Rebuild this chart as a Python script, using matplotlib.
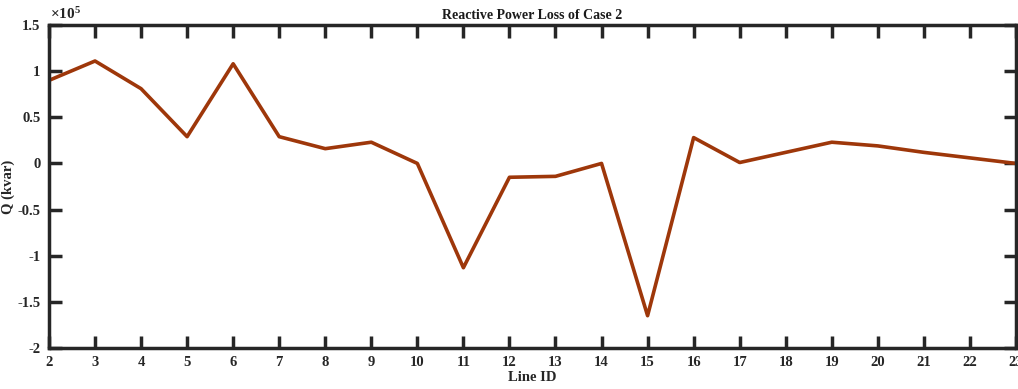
import matplotlib
matplotlib.use("Agg")
import matplotlib.pyplot as plt
from matplotlib.ticker import FuncFormatter

line_id = list(range(2, 24))
q_kvar = [0.90e5, 1.11e5, 0.81e5, 0.29e5, 1.08e5, 0.29e5, 0.16e5, 0.23e5, 0.00e5,
          -1.13e5, -0.15e5, -0.14e5, 0.00e5, -1.65e5, 0.28e5, 0.01e5, 0.12e5,
          0.23e5, 0.19e5, 0.12e5, 0.06e5, 0.00e5]
y_ticks = [-2e5, -1.5e5, -1e5, -0.5e5, 0, 0.5e5, 1e5, 1.5e5]

plt.rcParams['font.family'] = ['Liberation Serif', 'DejaVu Serif']
plt.rcParams['font.weight'] = 'bold'
plt.rcParams['mathtext.fontset'] = 'custom'
plt.rcParams['mathtext.rm'] = 'Liberation Serif'
plt.rcParams['mathtext.it'] = 'Liberation Serif:italic'
plt.rcParams['mathtext.bf'] = 'Liberation Serif:bold'

fig = plt.figure(figsize=(10.18, 3.89), dpi=100)
ax = fig.add_axes([0.0481, 0.1054, 0.9499, 0.8303])
ax.plot(line_id, q_kvar, color='#9E370A', linewidth=2.6)

ax.set_xlim(2, 23)
ax.set_ylim(-2e5, 1.5e5)
ax.set_xticks(line_id)
ax.set_yticks(y_ticks)

def fmt(v, pos):
    s = f"{v/1e5:g}"
    return s.replace('\u2212', '-')
ax.yaxis.set_major_formatter(FuncFormatter(fmt))

for sp in ax.spines.values():
    sp.set_linewidth(2.5)
    sp.set_color('#262626')
ax.tick_params(direction='in', length=9, width=2.5, colors='#262626',
               top=True, right=True, labelsize=10.5, pad=6)
for lbl in ax.get_xticklabels() + ax.get_yticklabels():
    lbl.set_fontweight('bold')
    lbl.set_color('#262626')

ax.text(0.001, 1.01, r'$\mathrm{\times 10^{5}}$', transform=ax.transAxes, ha='left', va='bottom',
        fontsize=11, color='#262626')
ax.set_title('Reactive Power Loss of Case 2', fontsize=10, fontweight='bold', pad=4, color='#1a1a1a')
ax.set_xlabel('Line ID', fontsize=10.5, fontweight='bold', labelpad=1, color='#262626')
ax.set_ylabel('Q (kvar)', fontsize=10.5, fontweight='bold', labelpad=2, color='#262626')

fig.savefig('out.png', dpi=100)
